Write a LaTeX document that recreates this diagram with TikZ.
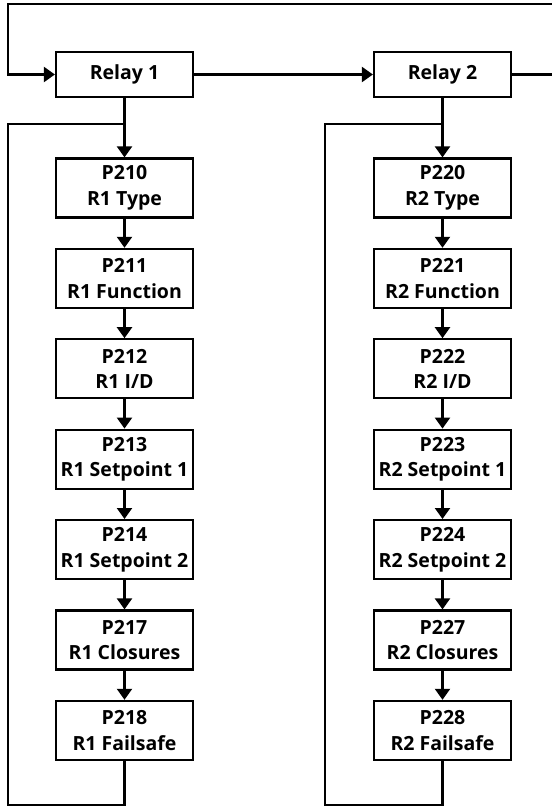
\documentclass[tikz,border=0pt]{standalone}
\usepackage{fontspec}
\setmainfont{Open Sans}
\usetikzlibrary{positioning, arrows.meta}

\tikzset{
  wire/.style={line width=2.2pt},
  flow/.style={wire, -{Triangle[width=15pt, length=11pt]}},
  relaybox/.style={draw, line width=2.2pt, minimum width=137pt, minimum height=45pt,
    inner sep=0pt, font=\bfseries\fontsize{19.5}{25.5}\selectfont},
  parambox/.style={relaybox, minimum height=59pt, align=center}
}

\begin{document}
\begin{tikzpicture}[x=1pt, y=-1pt]
  \clip (0,0) rectangle (552,807);
  \useasboundingbox (0,0) rectangle (552,807);

  % Relais
  \node[relaybox] (r1) at (124.5,74.5) {Relay 1};
  \node[relaybox] (r2) at (442.5,74.5) {Relay 2};
  \draw[flow] (r1) -- (r2);

  % Schleife oben
  \coordinate (topL) at (8,4);
  \draw[flow] (r2.east) -- ++(46,0) |- (topL) |- (r1.west);

  % Parameter je Relais
  \foreach \r/\fx in {1/8, 2/325} {
    \pgfmathsetmacro{\cx}{124.5 + 318*(\r-1)}
    \foreach \n/\txt [count=\i] in {0/Type, 1/Function, 2/{I/D}, 3/{Setpoint 1},
                                    4/{Setpoint 2}, 7/Closures, 8/Failsafe} {
      \pgfmathsetmacro{\cy}{188 + 90.4*(\i-1)}
      \node[parambox] (p\r\n) at (\cx,\cy) {P2\r\n\\R\r\ \txt};
    }
    \draw[flow] (r\r) -- (p\r0);
    \foreach \a/\b in {0/1, 1/2, 2/3, 3/4, 4/7, 7/8}
      \draw[flow] (p\r\a) -- (p\r\b);
    % Ruecksprung
    \coordinate (tap\r) at (\cx,124);
    \coordinate (loop\r) at (\fx,805);
    \draw[wire] (p\r8.south) |- (loop\r) |- (tap\r);
  }
\end{tikzpicture}
\end{document}
